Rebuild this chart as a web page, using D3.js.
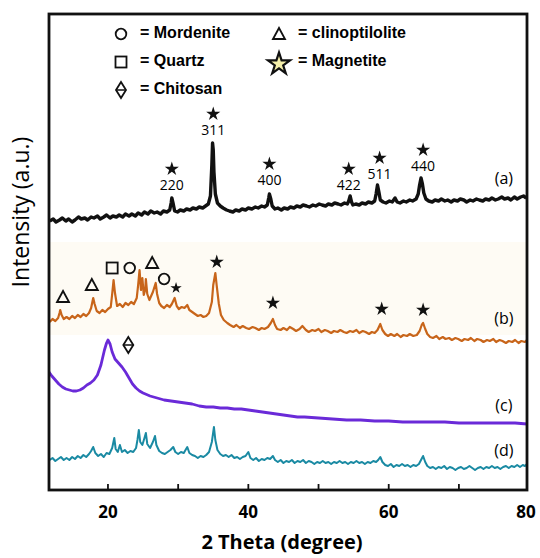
<!DOCTYPE html>
<html>
<head>
<meta charset="utf-8">
<script src="https://cdn.jsdelivr.net/npm/d3@7"></script>
<style>
  body { margin: 0; background: #fff; }
  svg { display: block; }
</style>
</head>
<body>
<svg id="chart" width="540" height="558"></svg>
<script>
// XRD patterns, [2theta, intensity a.u.]
var traceA = [[11.7,269],[12.2,271],[12.6,268],[13.1,270],[13.5,272],[14.0,269],[14.4,271],[14.9,268],[15.3,270],[15.8,273],[16.2,271],[16.7,272],[17.1,270],[17.6,273],[18.0,272],[18.5,274],[18.9,271],[19.4,273],[19.8,275],[20.3,272],[20.7,274],[21.2,273],[21.6,275],[22.1,273],[22.5,276],[23.0,274],[23.4,276],[23.9,274],[24.3,277],[24.8,275],[25.2,278],[25.7,276],[26.1,279],[26.6,277],[27.0,278],[27.5,276],[27.9,279],[28.4,278],[28.8,280],[29.0,287],[29.1,292],[29.3,286],[29.5,279],[29.9,278],[30.3,280],[30.8,279],[31.2,281],[31.7,280],[32.1,282],[32.6,281],[33.0,283],[33.5,282],[33.9,284],[34.3,286],[34.6,294],[34.8,325],[34.9,347],[35.0,340],[35.1,318],[35.3,296],[35.6,287],[36.0,284],[36.4,282],[36.9,280],[37.3,279],[37.8,278],[38.2,280],[38.7,279],[39.1,281],[39.6,280],[40.0,282],[40.5,281],[41.0,283],[41.4,282],[41.9,284],[42.3,283],[42.7,285],[42.9,292],[43.0,296],[43.2,291],[43.4,284],[43.8,281],[44.2,282],[44.7,280],[45.1,282],[45.6,281],[46.0,283],[46.5,282],[46.9,284],[47.4,283],[47.8,285],[48.3,284],[48.7,283],[49.2,285],[49.6,284],[50.1,286],[50.5,285],[51.0,284],[51.4,286],[51.9,285],[52.3,287],[52.8,286],[53.2,285],[53.7,287],[54.1,286],[54.3,289],[54.5,294],[54.7,288],[54.9,285],[55.3,286],[55.8,285],[56.2,287],[56.7,286],[57.1,288],[57.6,287],[58.0,289],[58.2,296],[58.4,305],[58.6,298],[58.8,290],[59.2,288],[59.6,287],[60.1,289],[60.5,288],[60.9,292],[61.2,288],[61.6,287],[62.1,289],[62.5,288],[63.0,290],[63.4,289],[63.9,291],[64.2,296],[64.4,305],[64.6,312],[64.8,306],[65.0,297],[65.3,291],[65.7,289],[66.2,288],[66.6,290],[67.1,289],[67.5,291],[68.0,289],[68.4,290],[68.9,288],[69.3,290],[69.8,289],[70.2,291],[70.7,290],[71.1,288],[71.6,290],[72.0,289],[72.5,291],[72.9,290],[73.4,289],[73.8,291],[74.3,290],[74.7,292],[75.2,290],[75.6,291],[76.1,293],[76.5,291],[77.0,292],[77.4,290],[77.9,293],[78.3,291],[78.8,293],[79.2,294],[79.6,292]];

var traceB = [[11.7,168],[12.1,171],[12.5,169],[12.9,172],[13.1,177],[13.2,180],[13.4,175],[13.7,171],[14.1,173],[14.5,171],[14.9,174],[15.3,172],[15.7,175],[16.1,173],[16.5,176],[16.9,174],[17.3,177],[17.6,182],[17.9,192],[18.1,186],[18.4,179],[18.8,177],[19.2,180],[19.6,178],[20.0,181],[20.4,183],[20.6,196],[20.8,210],[21.0,197],[21.3,184],[21.7,186],[22.1,183],[22.5,187],[22.9,185],[23.3,188],[23.7,186],[24.1,192],[24.3,205],[24.5,220],[24.7,200],[24.9,212],[25.1,195],[25.3,200],[25.4,211],[25.6,196],[25.9,190],[26.4,198],[26.8,207],[27.0,196],[27.3,187],[27.6,184],[28.0,182],[28.4,185],[28.8,183],[29.1,186],[29.5,192],[29.8,184],[30.1,181],[30.5,183],[30.9,182],[31.3,185],[31.6,180],[32.0,178],[32.4,176],[32.8,174],[33.2,175],[33.6,173],[34.0,174],[34.4,177],[34.8,188],[35.0,205],[35.3,217],[35.5,204],[35.8,186],[36.1,175],[36.5,170],[37.0,167],[37.4,165],[37.9,163],[38.3,165],[38.8,162],[39.2,164],[39.7,162],[40.1,161],[40.6,163],[41.0,162],[41.5,160],[41.9,162],[42.3,161],[42.8,163],[43.2,167],[43.5,171],[43.8,165],[44.1,161],[44.6,160],[45.0,162],[45.5,160],[45.9,163],[46.4,161],[46.8,159],[47.3,161],[47.7,164],[48.2,160],[48.6,158],[49.1,160],[49.5,159],[50.0,161],[50.4,158],[50.9,160],[51.3,159],[51.8,157],[52.2,159],[52.7,158],[53.1,160],[53.6,158],[54.0,157],[54.5,159],[54.9,158],[55.4,160],[55.8,157],[56.3,159],[56.7,158],[57.2,156],[57.6,158],[58.0,157],[58.4,160],[58.8,166],[59.1,160],[59.5,156],[59.9,154],[60.3,156],[60.8,154],[61.2,156],[61.7,153],[62.1,155],[62.6,154],[63.0,156],[63.5,154],[64.0,155],[64.4,159],[64.7,165],[64.9,167],[65.2,161],[65.5,156],[65.9,153],[66.3,152],[66.8,154],[67.2,151],[67.7,153],[68.1,151],[68.6,152],[69.0,150],[69.5,152],[69.9,151],[70.4,149],[70.8,151],[71.3,150],[71.7,152],[72.2,149],[72.6,151],[73.1,150],[73.5,148],[74.0,150],[74.4,149],[74.9,151],[75.3,148],[75.8,150],[76.2,149],[76.7,147],[77.1,149],[77.6,148],[78.0,150],[78.5,147],[78.9,149],[79.4,148],[79.7,150]];

var traceC = [[11.6,118],[12.0,114],[12.5,110],[13.0,106],[13.5,103],[14.0,101],[14.5,100],[15.0,99],[15.5,99],[16.0,100],[16.5,102],[17.0,105],[17.5,107],[18.0,110],[18.5,115],[19.0,125],[19.5,140],[19.8,147],[20.0,150],[20.3,146],[20.6,138],[21.0,131],[21.5,127],[22.0,123],[22.5,118],[23.0,112],[23.5,106],[24.0,102],[24.5,99],[25.0,97],[26.0,94],[27.0,92],[28.0,90],[29.0,89],[30.0,88],[31.0,87],[32.0,86],[33.0,84],[34.0,83],[35.0,83],[36.0,82],[37.0,82],[38.0,81],[39.0,81],[40.0,80],[41.0,79],[42.0,78],[43.0,77],[44.0,76],[45.0,75],[46.0,74],[47.0,73],[48.0,73],[50.0,72],[52.0,71],[54.0,70],[56.0,70],[58.0,69],[60.0,69],[62.0,68],[64.0,68],[66.0,68],[68.0,68],[70.0,67],[72.0,67],[74.0,67],[76.0,67],[78.0,67],[79.7,66]];

var traceD = [[11.7,30],[12.1,32],[12.5,29],[12.9,31],[13.3,33],[13.7,30],[14.1,32],[14.5,30],[14.9,33],[15.3,31],[15.7,34],[16.1,32],[16.5,35],[16.9,33],[17.3,36],[17.6,39],[17.9,43],[18.2,37],[18.6,34],[19.0,36],[19.4,33],[19.8,37],[20.2,36],[20.6,42],[20.9,52],[21.1,41],[21.4,38],[21.7,45],[22.0,38],[22.4,40],[22.8,37],[23.2,39],[23.6,38],[24.0,42],[24.2,50],[24.4,60],[24.6,48],[24.9,45],[25.2,52],[25.4,57],[25.6,46],[26.0,42],[26.4,48],[26.7,54],[26.9,45],[27.3,39],[27.7,37],[28.1,36],[28.5,38],[28.9,40],[29.3,43],[29.6,38],[30.0,36],[30.4,38],[30.8,37],[31.3,43],[31.6,37],[32.0,35],[32.4,34],[32.8,32],[33.2,34],[33.6,33],[34.0,35],[34.4,38],[34.8,48],[35.1,63],[35.3,50],[35.6,40],[36.0,36],[36.4,34],[36.8,35],[37.2,33],[37.6,35],[38.0,32],[38.4,33],[38.8,31],[39.2,33],[39.6,34],[40.0,38],[40.3,32],[40.7,30],[41.1,32],[41.5,29],[41.9,31],[42.3,30],[42.7,32],[43.1,31],[43.5,34],[43.8,30],[44.2,28],[44.6,30],[45.0,27],[45.4,29],[45.8,28],[46.2,30],[46.6,27],[47.0,29],[47.4,28],[47.8,30],[48.2,27],[48.6,29],[49.0,28],[49.4,26],[49.8,28],[50.2,27],[50.6,29],[51.0,27],[51.4,28],[51.8,26],[52.2,28],[52.6,27],[53.0,29],[53.4,27],[53.8,28],[54.2,26],[54.6,28],[55.0,27],[55.4,29],[55.8,27],[56.2,28],[56.6,26],[57.0,28],[57.4,27],[57.8,29],[58.2,28],[58.5,30],[58.8,33],[59.1,28],[59.5,25],[59.9,24],[60.3,26],[60.7,23],[61.1,25],[61.5,24],[61.9,26],[62.3,24],[62.7,25],[63.1,23],[63.5,25],[63.9,24],[64.3,26],[64.6,30],[64.9,34],[65.2,28],[65.5,24],[65.9,22],[66.3,23],[66.7,21],[67.1,23],[67.5,22],[67.9,24],[68.3,21],[68.7,23],[69.1,22],[69.5,20],[69.9,22],[70.3,23],[70.7,21],[71.1,22],[71.5,24],[71.9,22],[72.3,20],[72.7,22],[73.1,23],[73.5,21],[73.9,23],[74.3,22],[74.7,24],[75.1,22],[75.5,23],[75.9,21],[76.3,23],[76.7,24],[77.1,22],[77.5,24],[77.9,23],[78.3,25],[78.7,23],[79.1,25],[79.4,24],[79.7,26]];

var seriesNames = ["(a)", "(b)", "(c)", "(d)"];
var seriesColors = ["#111111", "#c8651a", "#6a2ad8", "#1a8aa3"];
var seriesLabelLevel = [310, 170, 83, 38];

// magnetite reflections marked on (a): 2theta, star level, hkl
var hklPos = [29.1, 35.0, 43.0, 54.3, 58.7, 64.9];
var hklLevel = [322, 377, 327, 322, 333, 341];
var hklText = ["220", "311", "400", "422", "511", "440"];

// phase markers on (b) and (c): 2theta, level, phase
var markPos = [13.6, 17.7, 20.6, 23.1, 26.3, 28.0, 29.7, 35.5, 43.5, 59.0, 64.9, 22.9];
var markLevel = [193, 205, 222, 222, 227, 211, 203, 229, 188, 182, 181, 145];
var markType = ["tri", "tri", "sq", "circ", "tri", "circ", "starS", "star", "star", "star", "star", "dia"];

var xTicks = [20, 30, 40, 50, 60, 70];
var xTickLabels = [20, 40, 60, 80];

var legendRows = [
  {type: "circ", text: "= Mordenite", col: 0, row: 0},
  {type: "tri", text: "= clinoptilolite", col: 1, row: 0},
  {type: "sq", text: "= Quartz", col: 0, row: 1},
  {type: "starL", text: "= Magnetite", col: 1, row: 1},
  {type: "dia", text: "= Chitosan", col: 0, row: 2}
];

var svg = d3.select("#chart");
var mLeft = 49, mRight = 527, mTop = 14, mBottom = 490;

var x = d3.scaleLinear().domain([11.6, 79.7]).range([mLeft, mRight]);
var y = d3.scaleLinear().domain([0, 476]).range([mBottom, mTop]);

//faint band behind pattern (b)
svg.append("rect")
  .attr("x", mLeft).attr("y", y(248))
  .attr("width", mRight - mLeft).attr("height", y(155) - y(248))
  .attr("fill", "#fefbf4");

var line = d3.line().x(function(d){ return x(d[0]); }).y(function(d){ return y(d[1]); });

var traces = [traceA, traceB, traceC, traceD];
var widths = [3.4, 2.2, 2.8, 2];
traces.forEach(function(t, i){
  svg.append("path")
    .datum(t)
    .attr("d", line)
    .attr("fill", "none")
    .attr("stroke", seriesColors[i])
    .attr("stroke-width", widths[i])
    .attr("stroke-linejoin", "round");
  svg.append("text")
    .attr("x", x(76.4)).attr("y", y(seriesLabelLevel[i]))
    .attr("text-anchor", "middle").attr("dominant-baseline", "middle")
    .style("font-family", "'Open Sans', sans-serif").style("font-size", "16px")
    .text(seriesNames[i]);
});

// draw a marker symbol
function marker(g, type, cx, cy){
  var sw = 1.8;
  if(type == "tri"){
    g.append("path")
      .attr("d", "M" + (cx-6) + "," + (cy+5) + "L" + cx + "," + (cy-6) + "L" + (cx+6) + "," + (cy+5) + "Z")
      .attr("fill", "none").attr("stroke", "#111").attr("stroke-width", sw).attr("stroke-linejoin", "miter");
  } else if(type == "sq"){
    g.append("rect").attr("x", cx-5.5).attr("y", cy-5.5).attr("width", 11).attr("height", 11)
      .attr("fill", "none").attr("stroke", "#111").attr("stroke-width", sw);
  } else if(type == "circ"){
    g.append("circle").attr("cx", cx).attr("cy", cy).attr("r", 5.3)
      .attr("fill", "none").attr("stroke", "#111").attr("stroke-width", sw);
  } else if(type == "dia"){
    g.append("path")
      .attr("d", "M" + cx + "," + (cy-8) + "L" + (cx+5) + "," + cy + "L" + cx + "," + (cy+8) + "L" + (cx-5) + "," + cy + "Z")
      .attr("fill", "none").attr("stroke", "#111").attr("stroke-width", sw);
    g.append("line").attr("x1", cx-5).attr("x2", cx+5).attr("y1", cy).attr("y2", cy)
      .attr("stroke", "#111").attr("stroke-width", 1.5);
  } else if(type == "star" || type == "starS"){
    g.append("path")
      .attr("d", d3.symbol().type(d3.symbolStar).size(type == "star" ? 62 : 40)())
      .attr("transform", "translate(" + cx + "," + (cy+1) + ")")
      .attr("fill", "#111");
  } else if(type == "starL"){
    g.append("path")
      .attr("d", d3.symbol().type(d3.symbolStar).size(150)())
      .attr("transform", "translate(" + cx + "," + (cy+2) + ")")
      .attr("fill", "#f4efaa").attr("stroke", "#111").attr("stroke-width", 2.2).attr("stroke-linejoin", "miter");
  }
}

var marks = svg.append("g");
markPos.forEach(function(p, i){
  marker(marks, markType[i], x(p), y(markLevel[i]));
});

// hkl stars and labels
hklPos.forEach(function(p, i){
  marker(marks, "star", x(p), y(hklLevel[i]));
  marks.append("text")
    .attr("x", x(p)).attr("y", y(hklLevel[i]) + 18)
    .attr("text-anchor", "middle").attr("dominant-baseline", "middle")
    .style("font-family", "'Open Sans', sans-serif").style("font-size", "14px")
    .text(hklText[i]);
});

// legend
var lg = svg.append("g");
legendRows.forEach(function(d){
  var sx = d.col == 0 ? 121 : 279;
  var sy = 34 + d.row * 28;
  marker(lg, d.type, sx, sy);
  lg.append("text")
    .attr("x", sx + 19).attr("y", sy)
    .attr("dominant-baseline", "middle")
    .style("font-family", "'Liberation Sans', Arial, sans-serif")
    .style("font-size", "16px").style("font-weight", "bold")
    .text(d.text);
});

// frame
svg.append("rect")
  .attr("x", mLeft).attr("y", mTop).attr("width", mRight - mLeft).attr("height", mBottom - mTop)
  .attr("fill", "none").attr("stroke", "#111").attr("stroke-width", 2.8);

// ticks on bottom, pointing in
svg.selectAll("line.tick").data(xTicks).enter().append("line")
  .attr("class", "tick")
  .attr("x1", function(d){ return x(d); }).attr("x2", function(d){ return x(d); })
  .attr("y1", mBottom).attr("y2", mBottom - 6)
  .attr("stroke", "#111").attr("stroke-width", 1.8);

svg.selectAll("text.tl").data(xTickLabels).enter().append("text")
  .attr("class", "tl")
  .attr("x", function(d){ return Math.min(x(d), 526); }).attr("y", 513)
  .attr("text-anchor", "middle").attr("dominant-baseline", "middle")
  .style("font-family", "'Open Sans', sans-serif").style("font-size", "17px").style("font-weight", "bold")
  .text(function(d){ return d; });

svg.append("text")
  .attr("x", 282).attr("y", 544)
  .attr("text-anchor", "middle").attr("dominant-baseline", "middle")
  .style("font-family", "'Open Sans', sans-serif").style("font-size", "20px").style("font-weight", "bold")
  .text("2 Theta (degree)");

svg.append("text")
  .attr("transform", "translate(23,212) rotate(-90)")
  .attr("text-anchor", "middle").attr("dominant-baseline", "middle")
  .style("font-family", "'Open Sans', sans-serif").style("font-size", "23px")
  .text("Intensity (a.u.)");
</script>
</body>
</html>
